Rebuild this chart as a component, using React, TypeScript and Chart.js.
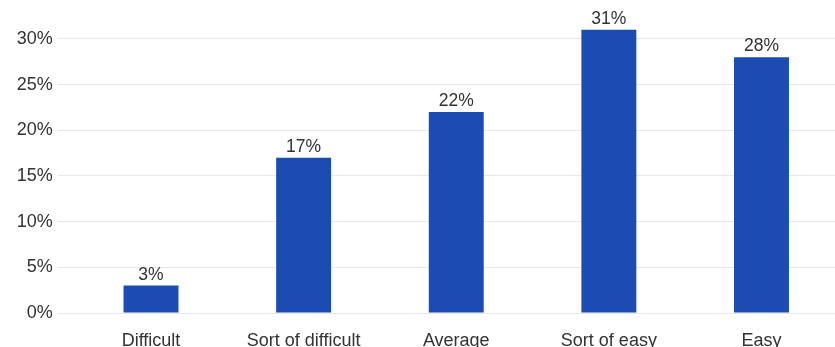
import React, { useEffect, useRef } from "react";
import { Chart, registerables } from "chart.js";

Chart.register(...registerables);

// Survey answers and their shares (percent)
const categories = ["Difficult", "Sort of difficult", "Average", "Sort of easy", "Easy"];
const shares = [3, 17, 22, 31, 28];
const yTickValues = [0, 5, 10, 15, 20, 25, 30];

const FONT_FAMILY = "'Liberation Sans', Arial, Helvetica, sans-serif";
const BAR_COLOR = "#1A4CB4";
const GRID_COLOR = "#E8E8E8";
const TEXT_COLOR = "#333333";

// Writes the percentage above every bar
const barValueLabels = {
  id: "barValueLabels",
  afterDatasetsDraw(chart: any) {
    const { ctx } = chart;
    const meta = chart.getDatasetMeta(0);
    ctx.save();
    ctx.font = `17.5px ${FONT_FAMILY}`;
    ctx.fillStyle = TEXT_COLOR;
    ctx.textAlign = "center";
    ctx.textBaseline = "alphabetic";
    meta.data.forEach((bar: any, i: number) => {
      ctx.fillText(`${shares[i]}%`, bar.x, bar.y - 6);
    });
    ctx.restore();
  },
};

export default function App() {
  const canvasRef = useRef<HTMLCanvasElement | null>(null);

  useEffect(() => {
    const canvas = canvasRef.current;
    if (!canvas) return;
    const chart = new Chart(canvas, {
      type: "bar",
      data: {
        labels: categories,
        datasets: [
          {
            data: shares,
            backgroundColor: BAR_COLOR,
            borderWidth: 0,
            barPercentage: 0.36,
            categoryPercentage: 1,
          },
        ],
      },
      options: {
        responsive: false,
        animation: false,
        devicePixelRatio: 1,
        layout: { padding: { top: 0, left: 0, right: 4.2, bottom: 0 } },
        plugins: {
          legend: { display: false },
          tooltip: { enabled: false },
        },
        scales: {
          x: {
            grid: { display: false, drawTicks: false },
            border: { display: false },
            ticks: {
              color: TEXT_COLOR,
              font: { family: FONT_FAMILY, size: 18 },
              padding: 17,
              maxRotation: 0,
              autoSkip: false,
            },
            afterFit(scale: any) {
              scale.height = 34;
            },
          },
          y: {
            min: 0,
            max: 32.54,
            border: { display: false },
            grid: { color: GRID_COLOR, lineWidth: 1, drawTicks: true, tickLength: 17 },
            ticks: {
              stepSize: 5,
              color: TEXT_COLOR,
              font: { family: FONT_FAMILY, size: 18 },
              padding: 5,
              callback: (v: any) => `${v}%`,
            },
            afterBuildTicks(scale: any) {
              scale.ticks = yTickValues.map((value) => ({ value }));
            },
            afterFit(scale: any) {
              scale.width = 74.7;
            },
          },
        },
      },
      plugins: [barValueLabels],
    });
    return () => chart.destroy();
  }, []);

  return (
    <div
      style={{
        position: "fixed",
        left: 0,
        top: 0,
        width: 835,
        height: 347,
        overflow: "hidden",
        background: "#ffffff",
      }}
    >
      <canvas ref={canvasRef} width={842} height={347} style={{ display: "block" }} />
    </div>
  );
}
